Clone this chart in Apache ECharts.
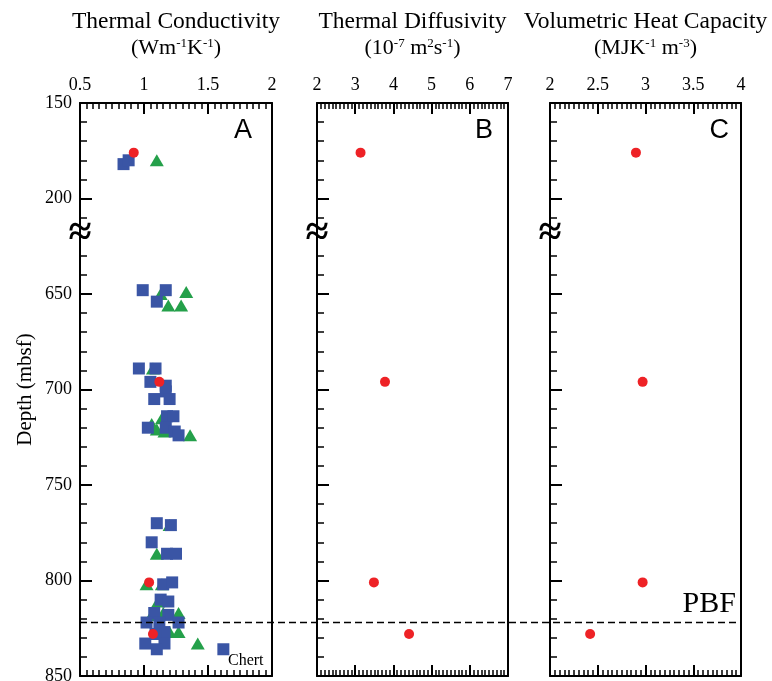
<!DOCTYPE html>
<html><head><meta charset="utf-8">
<script src="https://cdn.jsdelivr.net/npm/echarts@6/dist/echarts.min.js"></script>
<style>html,body{margin:0;padding:0;background:#fff}#c{width:772px;height:681px}</style>
</head><body><div id="c"></div><script>
// ---- data: [value, depth (mbsf)] ----
const condCircles = [[0.92,176],[1.12,696],[1.04,801],[1.07,828]];
const condSquares = [[0.84,182],[0.88,180],
  [0.99,648],[1.17,648],[1.10,654],
  [0.96,689],[1.09,689],[1.05,696],[1.17,698],[1.17,701],[1.08,705],[1.20,705],[1.18,714],[1.23,714],[1.03,720],[1.17,720],[1.24,722],[1.27,724],
  [1.10,770],[1.21,771],[1.06,780],[1.18,786],[1.25,786],[1.15,802],[1.22,801],[1.13,810],[1.19,811],[1.08,817],[1.19,818],
  [1.02,822],[1.12,822],[1.27,822],[1.16,827],[1.09,828],[1.01,833],[1.16,833],[1.10,836],[1.62,836]];
const condTriangles = [[1.10,180],[1.13,650],[1.33,649],[1.19,656],[1.29,656],[1.07,689],[1.06,718],[1.14,715],[1.10,721],[1.16,722],[1.36,724],
  [1.20,771],[1.10,786],[1.02,802],[1.14,802],[1.11,811],[1.06,818],[1.15,817],[1.27,817],[1.20,827],[1.27,827],[1.42,833]];
const diffCircles = [[3.14,176],[3.78,696],[3.49,801],[4.41,828]];
const heatCircles = [[2.90,176],[2.97,696],[2.97,801],[2.42,828]];
const pbfDepth = 822;
const depthTicks = [150,200,650,700,750,800,850];
const breakShift = 400;   // depths below the break are shifted up by this amount
const panelTitles = ['Thermal Conductivity','Thermal Diffusivity','Volumetric Heat Capacity'];
const panelLetters = ['A','B','C'];

function toAxis(d){ return d > 400 ? d - breakShift : d; }
function fromAxis(v){ return v > 200 ? v + breakShift : v; }
function conv(arr){ return arr.map(p => [p[0], toAxis(p[1])]); }

const SERIF = '"Liberation Serif","Times New Roman",serif';
const SANS = '"Liberation Sans",Arial,sans-serif';
const RED = '#ee2226', BLUE = '#3a55a5', GREEN = '#24a04a';

const grids = [
  {left:80, top:103, width:192, height:573},
  {left:317, top:103, width:191, height:573},
  {left:550, top:103, width:191, height:573}
];
const xRanges = [
  {min:0.5, max:2, interval:0.5},
  {min:2, max:7, interval:1},
  {min:2, max:4, interval:0.5}
];

const xAxes = [], yAxes = [];
grids.forEach((g, i) => {
  const r = xRanges[i];
  const base = {
    gridIndex:i, type:'value', min:r.min, max:r.max, interval:r.interval,
    splitLine:{show:false},
    axisLine:{show:true, onZero:false, lineStyle:{color:'#000', width:2}},
    axisTick:{show:true, inside:true, length:11, lineStyle:{color:'#000', width:2}},
    minorTick:{show:true, splitNumber:10, length:6, lineStyle:{color:'#000', width:1.5}}
  };
  xAxes.push(Object.assign({}, base, {position:'top',
    axisLabel:{show:true, margin:9, color:'#000', fontFamily:SERIF, fontSize:18, showMinLabel:true, showMaxLabel:true}}));
  xAxes.push(Object.assign({}, base, {position:'bottom', axisLabel:{show:false}}));
  yAxes.push({
    gridIndex:i, type:'value', min:150, max:450, interval:50, inverse:true, position:'left',
    splitLine:{show:false},
    axisLine:{show:true, onZero:false, lineStyle:{color:'#000', width:2}},
    axisTick:{show:true, inside:true, length:12, lineStyle:{color:'#000', width:2}},
    minorTick:{show:true, splitNumber:5, length:7, lineStyle:{color:'#000', width:1.5}},
    axisLabel:{show:i===0, margin:8, color:'#000', fontFamily:SERIF, fontSize:18,
      formatter: v => { const d = fromAxis(v); return depthTicks.includes(d) ? String(d) : ''; }},
    name: i===0 ? 'Depth (mbsf)' : '', nameLocation:'middle', nameGap:44, nameRotate:90,
    nameTextStyle:{color:'#000', fontFamily:SERIF, fontSize:21}
  });
  yAxes.push({
    gridIndex:i, type:'value', min:150, max:450, inverse:true, position:'right',
    splitLine:{show:false}, axisTick:{show:false}, axisLabel:{show:false},
    axisLine:{show:true, onZero:false, lineStyle:{color:'#000', width:2}}
  });
});

function sc(name, data, panel, symbol, size, color, z){
  return {name, type:'scatter', xAxisIndex:panel*2, yAxisIndex:panel*2, data:conv(data),
    symbol, symbolSize:size, itemStyle:{color, opacity:1}, z, silent:true, animation:false};
}

const series = [
  sc('K triangles', condTriangles, 0, 'triangle', [14,12], GREEN, 2),
  sc('K squares', condSquares, 0, 'rect', 12, BLUE, 3),
  sc('K circles', condCircles, 0, 'circle', 10, RED, 4),
  sc('Diffusivity', diffCircles, 1, 'circle', 10, RED, 4),
  sc('Heat capacity', heatCircles, 2, 'circle', 10, RED, 4)
];

const chart = echarts.init(document.getElementById('c'), null, {renderer:'canvas'});
chart.setOption({
  animation:false, backgroundColor:'#fff',
  grid: grids.map(g => Object.assign({show:false, containLabel:false, outerBoundsMode:'none'}, g)),
  xAxis:xAxes, yAxis:yAxes, series
});

// annotations
const gfx = [];
const supRich = {
  n:{fontFamily:SERIF, fontSize:22, color:'#000'},
  s:{fontFamily:SERIF, fontSize:13, color:'#000', verticalAlign:'top', padding:[0,0,9,0]}
};
const units = [
  '{n|(Wm}{s|-1}{n|K}{s|-1}{n|)}',
  '{n|(10}{s|-7}{n| m}{s|2}{n|s}{s|-1}{n|)}',
  '{n|(MJK}{s|-1}{n| m}{s|-3}{n|)}'
];
grids.forEach((g, i) => {
  const cx = g.left + g.width/2;
  gfx.push({type:'text', x:cx, y:22, style:{text:panelTitles[i], font:'23.5px '+SERIF, fill:'#000', align:'center', verticalAlign:'middle'}});
  gfx.push({type:'text', x:cx, y:48, style:{text:units[i], rich:supRich, align:'center', verticalAlign:'middle'}});
  gfx.push({type:'text', x:g.left + g.width - [20,15,12][i], y:131, style:{text:panelLetters[i], font:'27px '+SANS, fill:'#000', align:'right', verticalAlign:'middle'}});
  const p = chart.convertToPixel({xAxisIndex:i*2, yAxisIndex:i*2}, [xRanges[i].min, 214]);
  gfx.push({type:'text', x:p[0], y:p[1]+9, style:{text:'≈', font:'bold 42px '+SERIF, fill:'#000', align:'center', verticalAlign:'middle'}});
});
const yP = chart.convertToPixel({yAxisIndex:0}, toAxis(pbfDepth));
gfx.push({type:'line', shape:{x1:grids[0].left, y1:yP, x2:grids[2].left+grids[2].width, y2:yP},
  style:{stroke:'#000', lineWidth:1.5, lineDash:[7,4]}, z:10});
gfx.push({type:'text', x:736, y:yP-3, style:{text:'PBF', font:'30px '+SERIF, fill:'#000', align:'right', verticalAlign:'bottom'}});
gfx.push({type:'text', x:228, y:661, style:{text:'Chert', font:'16px '+SERIF, fill:'#000', align:'left', verticalAlign:'middle'}});
chart.setOption({graphic:{elements:gfx}});
</script></body></html>
